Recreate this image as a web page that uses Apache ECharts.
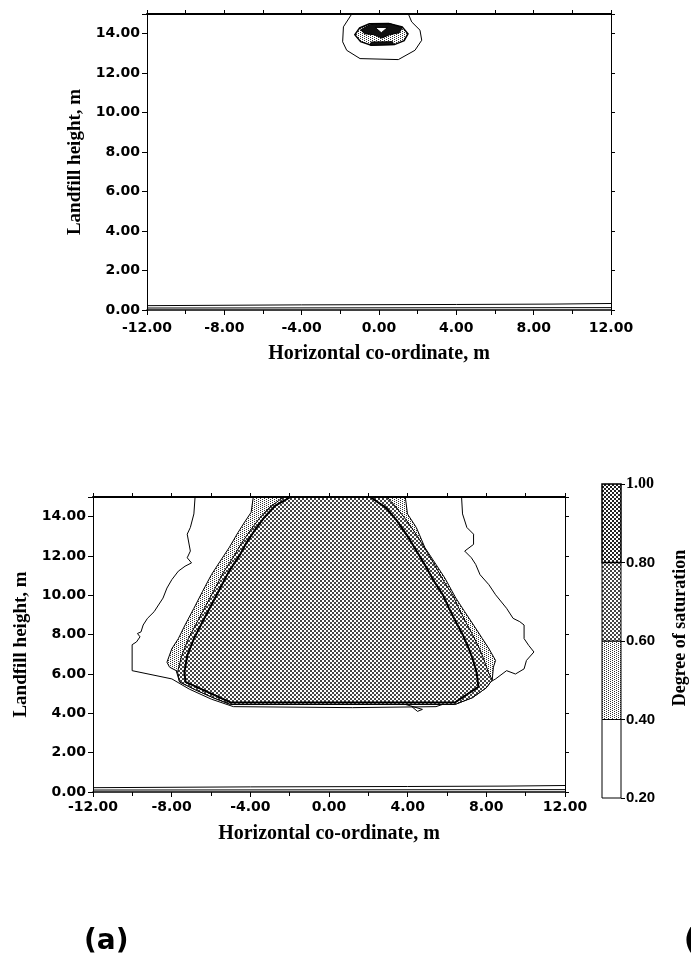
<!DOCTYPE html>
<html>
<head>
<meta charset="utf-8">
<script src="https://cdn.jsdelivr.net/npm/echarts@6/dist/echarts.min.js"></script>
<style>
  html, body { margin: 0; padding: 0; background: #fff; }
  #chart { width: 691px; height: 958px; }
</style>
</head>
<body>
<div id="chart"></div>
<script>
// upper panel: small wet zone right under the top surface
const blobOuter = [[-1.41, 15], [-1.84, 14.35], [-1.88, 13.59], [-1.67, 13.16], [-0.98, 12.74], [1.0, 12.69],
  [1.86, 13.16], [2.21, 13.67], [2.12, 14.18], [1.69, 14.6], [1.52, 15]];
const blobLight = [[-1.25, 13.95], [-1.0, 14.3], [-0.5, 14.5], [0.5, 14.52], [1.2, 14.35], [1.5, 14.0],
  [1.3, 13.65], [0.8, 13.45], [-0.4, 13.42], [-0.95, 13.6]];
const blobDark = [[-0.95, 14.2], [-0.45, 14.47], [0.6, 14.5], [1.2, 14.3], [1.05, 14.05], [0.55, 13.95],
  [0.15, 13.78], [-0.25, 13.95], [-0.75, 14.0]];
const blobCore = [[-0.2, 14.32], [0.45, 14.32], [0.12, 14.05]];
const blobBottom = [[-0.45, 13.42], [0.75, 13.45], [0.7, 13.6], [-0.4, 13.58]];

// thin double line along the base (both panels)
const baseLineA = [[-12, 0.22], [-4, 0.26], [4, 0.28], [9, 0.3], [12, 0.33]];
const baseLineB = [[-12, 0.1], [12, 0.12]];

// lower panel: saturated wedge
const outerContour = [[-6.81, 15], [-6.87, 14.14], [-7.05, 13.45], [-7.21, 13.11], [-7.05, 12.25], [-7.21, 11.91],
  [-6.99, 11.65], [-7.32, 11.48], [-7.66, 11.23], [-7.99, 10.8], [-8.24, 10.37], [-8.44, 9.86], [-8.67, 9.51],
  [-8.89, 9.17], [-9.23, 8.83], [-9.45, 8.49], [-9.56, 8.14], [-9.74, 8.06], [-9.61, 7.89], [-9.79, 7.63],
  [-10.01, 7.49], [-10.01, 6.17], [-7.99, 5.75], [-7.1, 5.23], [-5.98, 4.72], [-4.86, 4.34], [1.19, 4.29],
  [5.44, 4.34], [6.56, 4.72], [7.46, 5.15], [8.47, 5.75], [9.03, 6.17], [9.48, 6.0], [9.92, 6.26], [10.04, 6.69],
  [10.42, 7.12], [10.15, 7.46], [9.92, 7.8], [9.92, 8.49], [9.7, 8.66], [9.36, 8.83], [9.03, 9.34], [8.47, 10.03],
  [8.13, 10.54], [7.68, 11.05], [7.46, 11.57], [7.24, 11.91], [6.9, 12.25], [7.35, 12.59], [7.35, 13.11],
  [7.01, 13.45], [6.79, 14.14], [6.74, 15]];
const lightZone = [[-3.85, 15], [-3.96, 14.22], [-4.3, 13.71], [-4.63, 13.19], [-5.08, 12.42], [-5.53, 11.74],
  [-5.98, 11.05], [-6.43, 10.2], [-6.87, 9.34], [-7.32, 8.49], [-7.66, 7.8], [-7.99, 7.29], [-8.24, 6.6],
  [-8.11, 6.35], [-7.77, 6.17], [-7.6, 5.6], [-6.8, 5.2], [-5.9, 4.8], [-5.0, 4.45], [6.4, 4.45], [7.3, 4.8],
  [8.0, 5.3], [8.3, 5.7], [8.36, 6.35], [8.47, 6.69], [8.13, 7.29], [7.8, 7.8], [7.35, 8.49], [6.9, 9.17],
  [6.45, 9.86], [5.89, 10.88], [5.44, 11.57], [4.88, 12.42], [4.44, 13.45], [3.99, 14.14], [3.88, 15]];
const denseZone = [[-2.3, 15], [-3.0, 14.5], [-3.55, 13.9], [-4.0, 13.3], [-4.45, 12.65], [-4.8, 12.05],
  [-5.35, 11.2], [-5.8, 10.35], [-6.25, 9.5], [-6.7, 8.65], [-7.15, 7.8], [-7.5, 6.9], [-7.7, 6.1], [-7.6, 5.6],
  [-6.8, 5.2], [-5.9, 4.8], [-5.0, 4.45], [6.4, 4.45], [7.3, 4.8], [8.0, 5.3], [8.3, 5.7], [8.1, 6.1],
  [7.85, 6.8], [7.65, 7.3], [7.3, 8.0], [6.95, 8.65], [6.6, 9.35], [6.3, 10.0], [5.85, 10.7], [5.4, 11.5],
  [4.95, 12.25], [4.5, 13.0], [3.95, 13.8], [3.4, 14.5], [2.95, 15]];
const thickContour = [[-1.95, 15], [-2.73, 14.56], [-3.29, 13.96], [-3.74, 13.36], [-4.19, 12.68], [-4.52, 12.08],
  [-5.08, 11.23], [-5.53, 10.37], [-5.98, 9.51], [-6.43, 8.66], [-6.87, 7.8], [-7.21, 6.93], [-7.35, 6.1],
  [-7.3, 5.6], [-5.0, 4.55], [6.4, 4.55], [7.6, 5.35], [7.5, 6.1], [7.3, 6.8], [7.1, 7.3], [6.8, 8.0],
  [6.45, 8.65], [6.1, 9.35], [5.8, 10.0], [5.35, 10.7], [4.9, 11.5], [4.45, 12.25], [4.0, 13.0], [3.45, 13.8],
  [2.9, 14.45], [2.1, 15]];
const spike = [[3.9, 4.45], [4.75, 4.2], [4.5, 4.1], [4.2, 4.35]];

// legend levels (degree of saturation)
const levels = [0.2, 0.4, 0.6, 0.8, 1.0];

function pattern(size, cells, color) {
  const c = document.createElement('canvas');
  c.width = size;
  c.height = size;
  const ctx = c.getContext('2d');
  ctx.fillStyle = '#fff';
  ctx.fillRect(0, 0, size, size);
  ctx.fillStyle = color;
  cells.forEach(p => ctx.fillRect(p[0], p[1], 1, 1));
  return { image: c, repeat: 'repeat' };
}
const lightDots = pattern(4, [[0, 0], [2, 1], [0, 2], [2, 3]], '#333');
const denseDots = pattern(4, [[0, 0], [1, 0], [0, 1], [1, 1], [2, 2], [3, 2], [2, 3], [3, 3]], '#444');
const denserDots = pattern(4, [[0, 0], [1, 0], [0, 1], [1, 1], [2, 2], [3, 2], [2, 3], [3, 3]], '#222');
const bandFills = ['#fff', lightDots, denseDots, denserDots];

function shape(axis, pts, opt) {
  return {
    type: 'custom',
    xAxisIndex: axis,
    yAxisIndex: axis,
    data: [[0, 7]],
    silent: true,
    renderItem(params, api) {
      const points = pts.map(p => api.coord(p));
      return {
        type: opt.closed ? 'polygon' : 'polyline',
        shape: { points: points },
        style: { fill: opt.fill || null, stroke: opt.stroke || '#000', lineWidth: opt.lw || 1 }
      };
    }
  };
}

const tickFont = { fontFamily: 'DejaVu Sans', fontWeight: 'bold', fontSize: 14, color: '#000' };
const titleFont = { fontFamily: 'Liberation Serif', fontWeight: 'bold', color: '#000' };

function xAxes(grid, nameGap, margin) {
  return [
    {
      type: 'value', gridIndex: grid, position: 'bottom', min: -12, max: 12, interval: 4, z: 10,
      name: 'Horizontal co-ordinate, m', nameLocation: 'middle', nameGap: nameGap,
      nameTextStyle: Object.assign({ fontSize: 20 }, titleFont),
      axisLine: { onZero: false, lineStyle: { color: '#000', width: 1.5 } },
      axisTick: { length: 5, lineStyle: { color: '#000' } },
      minorTick: { show: true, splitNumber: 2, length: 4, lineStyle: { color: '#000' } },
      splitLine: { show: false },
      axisLabel: Object.assign({ margin: margin, showMinLabel: true, showMaxLabel: true,
        formatter: v => v.toFixed(2) }, tickFont)
    },
    {
      type: 'value', gridIndex: grid, position: 'top', min: -12, max: 12, interval: 2, z: 10,
      axisLine: { onZero: false, lineStyle: { color: '#000', width: 2 } },
      axisTick: { length: 4, lineStyle: { color: '#000' } },
      splitLine: { show: false },
      axisLabel: { show: false }
    }
  ];
}

function yAxes(grid, nameGap) {
  return [
    {
      type: 'value', gridIndex: grid, position: 'left', min: 0, max: 15, interval: 2, z: 10,
      name: 'Landfill height, m', nameLocation: 'middle', nameGap: nameGap, nameRotate: 90,
      nameTextStyle: Object.assign({ fontSize: 19 }, titleFont),
      axisLine: { show: true, onZero: false, lineStyle: { color: '#000', width: 1 } },
      axisTick: { show: true, length: 5, lineStyle: { color: '#000' } },
      splitLine: { show: false },
      axisLabel: Object.assign({ margin: 7, formatter: v => (v > 14.5 ? '' : v.toFixed(2)) }, tickFont)
    },
    {
      type: 'value', gridIndex: grid, position: 'right', min: 0, max: 15, interval: 2, z: 10,
      axisLine: { show: true, onZero: false, lineStyle: { color: '#000', width: 1 } },
      axisTick: { show: true, length: 4, lineStyle: { color: '#000' } },
      splitLine: { show: false },
      axisLabel: { show: false }
    }
  ];
}

const chart = echarts.init(document.getElementById('chart'));

chart.setOption({
  backgroundColor: '#fff',
  animation: false,
  grid: [
    { left: 147, top: 14, width: 464, height: 296, outerBoundsMode: 'none' },
    { left: 93, top: 497, width: 472, height: 295, outerBoundsMode: 'none' },
    { left: 602, top: 484, width: 19, height: 314, outerBoundsMode: 'none' }
  ],
  xAxis: xAxes(0, 34, 11).concat(xAxes(1, 32, 8)).concat([
    { type: 'value', gridIndex: 2, min: 0, max: 1, show: false }
  ]),
  yAxis: yAxes(0, 54).concat(yAxes(1, 56)).concat([
    {
      type: 'value', gridIndex: 2, position: 'right', min: 0.2, max: 1.0, interval: 0.2,
      name: 'Degree of saturation', nameLocation: 'middle', nameGap: 50, nameRotate: 90,
      nameTextStyle: Object.assign({ fontSize: 18, padding: [0, 0, 0, 26] }, titleFont),
      axisLine: { show: false, onZero: false },
      axisTick: { show: true, length: 4, lineStyle: { color: '#000' } },
      splitLine: { show: false },
      axisLabel: {
        margin: 5, fontFamily: 'Liberation Sans', fontWeight: 'bold', fontSize: 15, color: '#000',
        formatter: v => (Math.abs(v - 1) < 1e-6 ? '{s|1.00}' : v.toFixed(2)),
        rich: { s: { fontFamily: 'Liberation Serif', fontSize: 16, color: '#000' } }
      }
    }
  ]),
  graphic: [
    { type: 'text', left: 84, top: 928, style: { text: '(a)', font: 'bold 28px "DejaVu Sans"', fill: '#000' } },
    { type: 'text', left: 684, top: 928, style: { text: '(', font: 'bold 28px "DejaVu Sans"', fill: '#000' } }
  ],
  series: [
    // upper panel
    shape(0, blobOuter, { lw: 1 }),
    shape(0, blobLight, { closed: true, fill: lightDots, lw: 1.5 }),
    shape(0, blobDark, { closed: true, fill: '#111', lw: 1 }),
    shape(0, blobCore, { closed: true, fill: '#fff', lw: 1 }),
    shape(0, blobBottom, { closed: true, fill: '#111', lw: 1 }),
    shape(0, baseLineA, { lw: 1 }),
    shape(0, baseLineB, { lw: 1 }),
    // lower panel
    shape(2, outerContour, { lw: 1 }),
    shape(2, lightZone, { closed: true, fill: lightDots, lw: 1 }),
    shape(2, denseZone, { closed: true, fill: denseDots, lw: 1 }),
    shape(2, thickContour, { lw: 2 }),
    shape(2, spike, { lw: 1 }),
    shape(2, baseLineA, { lw: 1 }),
    shape(2, baseLineB, { lw: 1 }),
    // legend bar
    {
      type: 'custom',
      xAxisIndex: 4,
      yAxisIndex: 4,
      silent: true,
      data: levels.slice(0, -1).map((v, i) => [v, levels[i + 1]]),
      renderItem(params, api) {
        const lo = api.coord([0, api.value(0)]);
        const hi = api.coord([1, api.value(1)]);
        return {
          type: 'rect',
          shape: { x: lo[0], y: hi[1], width: hi[0] - lo[0], height: lo[1] - hi[1] },
          style: { fill: bandFills[params.dataIndex], stroke: '#000', lineWidth: params.dataIndex === 3 ? 1.5 : 1 }
        };
      }
    }
  ]
});
</script>
</body>
</html>
